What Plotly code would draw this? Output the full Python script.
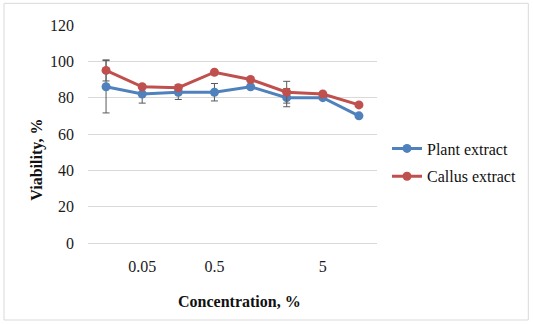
import plotly.graph_objects as go

# 8 concentrations, only some labelled on the axis (as in the original figure)
positions = [0, 1, 2, 3, 4, 5, 6, 7]
tick_positions = [1, 3, 6]
tick_labels = ["0.05", "0.5", "5"]

plant_values = [86, 82, 83, 83, 86, 80, 80, 70]
plant_err = [14.4, 5, 4, 4.8, 0, 5, 0, 0]

callus_values = [95, 86, 85.5, 94, 90, 83, 82, 76]
callus_err = [5.8, 0, 0, 0, 0, 6, 0, 0]

BLUE = "#4F81BD"
RED = "#C0504D"
ERR = "#595959"
FONT = "Liberation Serif"

# plot area in pixels: left 88, width 289, top 25, height 218
L, W, T, H = 88, 289, 25, 218


def px_x(p):
    return (p - L) / W


def px_y(p):
    return 1 - (p - T) / H


fig = go.Figure()
fig.add_trace(go.Scatter(
    x=positions, y=plant_values, name="Plant extract", legendgroup="plant",
    mode="lines+markers",
    line=dict(color=BLUE, width=3),
    marker=dict(color=BLUE, size=9),
    error_y=dict(type="data", array=plant_err, color=ERR, thickness=1, width=3.5),
))
fig.add_trace(go.Scatter(
    x=positions, y=callus_values, name="Callus extract", legendgroup="callus",
    mode="lines+markers",
    line=dict(color=RED, width=3),
    marker=dict(color=RED, size=9),
    error_y=dict(type="data", array=callus_err, color=ERR, thickness=1, width=3.5),
))

fig.update_layout(
    width=533, height=324,
    margin=dict(l=L, r=533 - L - W, t=T, b=324 - T - H),
    paper_bgcolor="white", plot_bgcolor="white",
    font=dict(family=FONT, size=16, color="#1a1a1a"),
    showlegend=True,
    legend=dict(x=px_x(387), y=px_y(162.5), xanchor="left", yanchor="middle",
                font=dict(size=16, color="#111"), tracegroupgap=4,
                bgcolor="rgba(0,0,0,0)"),
    xaxis=dict(
        range=[-0.5, 7.5], tickmode="array",
        tickvals=tick_positions, ticktext=tick_labels,
        showgrid=False, zeroline=False, showline=False, ticks="",
        ticklabelstandoff=12, tickfont=dict(family=FONT, size=16),
    ),
    yaxis=dict(
        range=[0, 120], dtick=20, tickmode="linear",
        showgrid=True, gridcolor="#D9D9D9", gridwidth=1,
        zeroline=True, zerolinecolor="#D9D9D9", zerolinewidth=1,
        showline=False, ticks="", ticklabelstandoff=13,
        tickfont=dict(family=FONT, size=16),
    ),
    annotations=[
        dict(text="<b>Concentration, %</b>", xref="paper", yref="paper",
             x=px_x(239), y=px_y(301.7), xanchor="center", yanchor="middle",
             showarrow=False, font=dict(size=16, color="#111")),
        dict(text="<b>Viability, %</b>", xref="paper", yref="paper",
             x=px_x(36.7), y=px_y(160), xanchor="center", yanchor="middle",
             textangle=-90, showarrow=False, font=dict(size=16, color="#111")),
    ],
    shapes=[dict(type="rect", xref="paper", yref="paper",
                 x0=px_x(4), x1=px_x(528.3), y0=px_y(320), y1=px_y(3.3),
                 line=dict(color="#D9D9D9", width=1))],
)

fig.write_html("out.html", config={"displayModeBar": False},
               post_script="document.body.style.margin='0';")
